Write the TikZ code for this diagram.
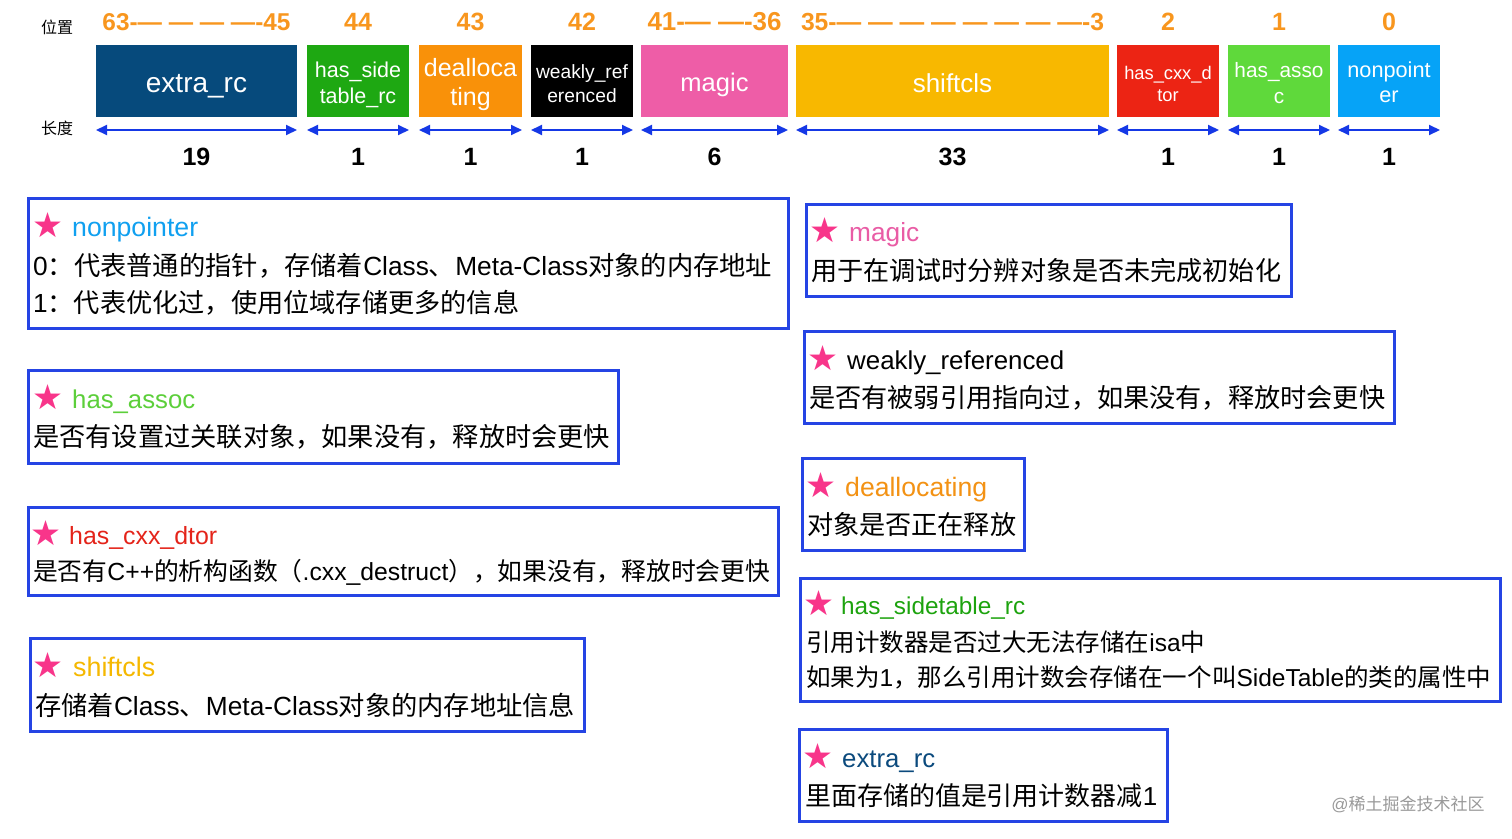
\documentclass[tikz,border=0pt]{standalone}
\usepackage{fontspec}
\usepackage{graphicx}
\setmainfont{Liberation Sans}
\newfontfamily\cjk{Noto Sans CJK SC}
\newfontfamily\symf{DejaVu Sans}
\usetikzlibrary{arrows.meta}
\definecolor{cExtra}{HTML}{064A7C}
\definecolor{cSide}{HTML}{1EA812}
\definecolor{cDealloc}{HTML}{F99109}
\definecolor{cWeak}{HTML}{000000}
\definecolor{cMagic}{HTML}{EE5DA7}
\definecolor{cShift}{HTML}{F8B800}
\definecolor{cCxx}{HTML}{EC2414}
\definecolor{cAssoc}{HTML}{5FD93B}
\definecolor{cNonptr}{HTML}{06A3F7}
\definecolor{cPos}{HTML}{F8961E}
\definecolor{cArrow}{HTML}{1538E6}
\definecolor{cBorder}{HTML}{2544E4}
\definecolor{cStar}{HTML}{F8358A}
\definecolor{tNonptr}{HTML}{10A0F0}
\definecolor{tAssoc}{HTML}{5CCF3A}
\definecolor{tCxx}{HTML}{E4241A}
\definecolor{tShift}{HTML}{F5B800}
\definecolor{tMagic}{HTML}{E95CA5}
\definecolor{tDealloc}{HTML}{F39214}
\definecolor{tSide}{HTML}{1DA30E}
\definecolor{tExtra}{HTML}{0B4A7D}
\newcommand\zh[1]{{\cjk #1}}
\newcommand\fitw[2]{\resizebox{#1}{!}{#2}}
\newcommand\strmark{\fitw{31pt}{\symf ★}}
\begin{document}
\begin{tikzpicture}[x=1pt,y=-1pt,
  field/.style={inner sep=0pt,outer sep=0pt,minimum height=72pt,anchor=north west},
  flabel/.style={inner sep=0pt,text=white,align=center},
  poslabel/.style={inner sep=0pt,text=cPos,font=\fontsize{25}{30}\selectfont\bfseries},
  lenlabel/.style={inner sep=0pt,text=black,font=\fontsize{25}{30}\selectfont\bfseries},
  sidelabel/.style={inner sep=0pt,text=black,font=\fontsize{16}{20}\selectfont\cjk},
  dimarrow/.style={cArrow,line width=2pt,{Triangle[length=11pt,width=10pt]}-{Triangle[length=11pt,width=10pt]}},
  descbox/.style={draw=cBorder,line width=2.5pt,fill=white,inner sep=0pt,anchor=north west},
  dtext/.style={inner sep=0pt,anchor=base west,font=\fontsize{25}{30}\selectfont},
  starnode/.style={inner sep=0pt,anchor=base west,text=cStar},
]
\useasboundingbox (0,0) rectangle (1512,838);
\fill[white] (0,0) rectangle (1512,838);

% ---- bit fields ----
\node[field,fill=cExtra,minimum width=201pt] (f1) at (96,45) {};
\node[field,fill=cSide,minimum width=102pt] (f2) at (307,45) {};
\node[field,fill=cDealloc,minimum width=103pt] (f3) at (419,45) {};
\node[field,fill=cWeak,minimum width=102pt] (f4) at (531,45) {};
\node[field,fill=cMagic,minimum width=147pt] (f5) at (641,45) {};
\node[field,fill=cShift,minimum width=313pt] (f6) at (796,45) {};
\node[field,fill=cCxx,minimum width=102pt] (f7) at (1117,45) {};
\node[field,fill=cAssoc,minimum width=102pt] (f8) at (1228,45) {};
\node[field,fill=cNonptr,minimum width=102pt] (f9) at (1338,45) {};

\node[flabel,font=\fontsize{28}{32}\selectfont] (fl1) at ([yshift=-5pt]f1.center) {extra\_rc};
\node[flabel,font=\fontsize{21.5}{26}\selectfont] (fl2) at ([yshift=-4pt]f2.center) {has\_side\\table\_rc};
\node[flabel,font=\fontsize{25}{29}\selectfont] (fl3) at ([yshift=-4pt]f3.center) {dealloca\\ting};
\node[flabel,font=\fontsize{19.2}{24}\selectfont] (fl4) at ([yshift=-2.5pt]f4.center) {weakly\_ref\\erenced};
\node[flabel,font=\fontsize{25.5}{30}\selectfont] (fl5) at ([yshift=-4pt]f5.center) {magic};
\node[flabel,font=\fontsize{26}{30}\selectfont] (fl6) at ([yshift=-2pt]f6.center) {shiftcls};
\node[flabel,font=\fontsize{18.3}{22}\selectfont] (fl7) at ([yshift=-2.5pt]f7.center) {has\_cxx\_d\\tor};
\node[flabel,font=\fontsize{20.8}{26}\selectfont] (fl8) at ([yshift=-2pt]f8.center) {has\_asso\\c};
\node[flabel,font=\fontsize{21.7}{25}\selectfont] (fl9) at ([yshift=-1pt]f9.center) {nonpoint\\er};

% ---- row labels ----
\node[sidelabel] (lpos) at (57,27) {位置};
\node[sidelabel] (llen) at (57,128) {长度};

% ---- position labels ----
\node[poslabel] (p1) at ([yshift=23pt]f1.north) {\fitw{188pt}{63-—\ —\ —\ —-45}};
\node[poslabel] (p2) at ([yshift=23pt]f2.north) {44};
\node[poslabel] (p3) at ([yshift=23pt]f3.north) {43};
\node[poslabel] (p4) at ([yshift=23pt]f4.north) {42};
\node[poslabel] (p5) at ([yshift=23pt]f5.north) {\fitw{134pt}{41-—\ —-36}};
\node[poslabel] (p6) at ([yshift=23pt]f6.north) {\fitw{303pt}{35-—\ —\ —\ —\ —\ —\ —\ —-3}};
\node[poslabel] (p7) at ([yshift=23pt]f7.north) {2};
\node[poslabel] (p8) at ([yshift=23pt]f8.north) {1};
\node[poslabel] (p9) at ([yshift=23pt]f9.north) {0};

% ---- length arrows and numbers ----
\foreach \f/\n in {f1/19,f2/1,f3/1,f4/1,f5/6,f6/33,f7/1,f8/1,f9/1}{
  \draw[dimarrow] ([yshift=-13pt]\f.south west) -- ([yshift=-13pt]\f.south east);
  \node[lenlabel] (len\f) at ([yshift=-40pt]\f.south) {\n};
}

% ---- description boxes ----
% nonpointer
\node[descbox,minimum width=760pt,minimum height=130pt] (dnon) at (27,197) {};
\node[starnode] (snon) at (32,237) {\strmark};
\node[dtext,text=tNonptr] (nnon) at (72,236) {\fitw{126pt}{nonpointer}};
\node[dtext] (dnon1) at (33,275) {\fitw{739pt}{0\zh{：代表普通的指针，存储着}Class\zh{、}Meta-Class\zh{对象的内存地址}}};
\node[dtext] (dnon2) at (33,312) {\fitw{486pt}{1\zh{：代表优化过，使用位域存储更多的信息}}};

% has_assoc
\node[descbox,minimum width=590pt,minimum height=93pt] (dassoc) at (27,369) {};
\node[starnode] (sassoc) at (32,409) {\strmark};
\node[dtext,text=tAssoc] (nassoc) at (72,408) {\fitw{123pt}{has\_assoc}};
\node[dtext] (dassoc1) at (33,446) {\fitw{577pt}{\zh{是否有设置过关联对象，如果没有，释放时会更快}}};

% has_cxx_dtor
\node[descbox,minimum width=750pt,minimum height=88pt] (dcxx) at (27,506) {};
\node[starnode] (scxx) at (30,545) {\strmark};
\node[dtext,text=tCxx] (ncxx) at (69,544) {\fitw{148pt}{has\_cxx\_dtor}};
\node[dtext] (dcxx1) at (33,580) {\fitw{737pt}{\zh{是否有}C++\zh{的析构函数（}.cxx\_destruct\zh{），如果没有，释放时会更快}}};

% shiftcls
\node[descbox,minimum width=554pt,minimum height=93pt] (dshift) at (29,637) {};
\node[starnode] (sshift) at (32,677) {\strmark};
\node[dtext,text=tShift] (nshift) at (73,676) {\fitw{82pt}{shiftcls}};
\node[dtext] (dshift1) at (35,715) {\fitw{540pt}{\zh{存储着}Class\zh{、}Meta-Class\zh{对象的内存地址信息}}};

% magic
\node[descbox,minimum width=485pt,minimum height=92pt] (dmagic) at (805,203) {};
\node[starnode] (smagic) at (809,242) {\strmark};
\node[dtext,text=tMagic] (nmagic) at (849,241) {\fitw{70pt}{magic}};
\node[dtext] (dmagic1) at (811,280) {\fitw{470pt}{\zh{用于在调试时分辨对象是否未完成初始化}}};

% weakly_referenced
\node[descbox,minimum width=590pt,minimum height=92pt] (dweak) at (803,330) {};
\node[starnode] (sweak) at (807,370) {\strmark};
\node[dtext,text=black] (nweak) at (847,369) {\fitw{217pt}{weakly\_referenced}};
\node[dtext] (dweak1) at (809,407) {\fitw{576pt}{\zh{是否有被弱引用指向过，如果没有，释放时会更快}}};

% deallocating
\node[descbox,minimum width=222pt,minimum height=92pt] (ddeal) at (801,457) {};
\node[starnode] (sdeal) at (805,497) {\strmark};
\node[dtext,text=tDealloc] (ndeal) at (845,496) {\fitw{142pt}{deallocating}};
\node[dtext] (ddeal1) at (807,534) {\fitw{209pt}{\zh{对象是否正在释放}}};

% has_sidetable_rc
\node[descbox,minimum width=700pt,minimum height=123pt] (dside) at (799,577) {};
\node[starnode] (sside) at (803,615) {\strmark};
\node[dtext,text=tSide] (nside) at (841,614) {\fitw{184pt}{has\_sidetable\_rc}};
\node[dtext] (dside1) at (806,651) {\fitw{399pt}{\zh{引用计数器是否过大无法存储在}isa\zh{中}}};
\node[dtext] (dside2) at (806,686) {\fitw{685pt}{\zh{如果为}1\zh{，那么引用计数会存储在一个叫}SideTable\zh{的类的属性中}}};

% extra_rc
\node[descbox,minimum width=368pt,minimum height=92pt] (dextra) at (798,728) {};
\node[starnode] (sextra) at (802,768) {\strmark};
\node[dtext,text=tExtra] (nextra) at (842,767) {\fitw{93pt}{extra\_rc}};
\node[dtext] (dextra1) at (805,805) {\fitw{352pt}{\zh{里面存储的值是引用计数器减}1}};

% watermark
\node[inner sep=0pt,text=black!40,font=\fontsize{17}{20}\selectfont] (wm) at (1408,804) {@\zh{稀土掘金技术社区}};
\end{tikzpicture}
\end{document}
